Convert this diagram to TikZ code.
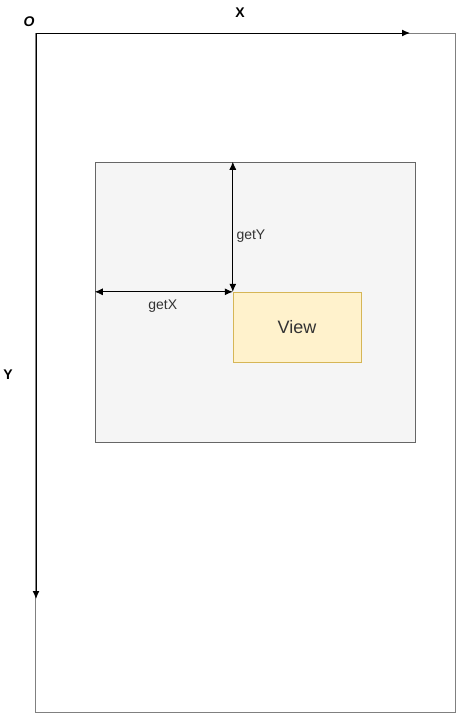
\documentclass[tikz,border=0pt]{standalone}
\usepackage{fontspec}
\setmainfont{Liberation Sans}
\usetikzlibrary{arrows.meta,positioning}
\definecolor{boxgray}{HTML}{F5F5F5}
\definecolor{edgegray}{HTML}{666666}
\definecolor{viewfill}{HTML}{FFF2CC}
\definecolor{viewedge}{HTML}{D6B656}
\definecolor{labeltext}{HTML}{333333}
\begin{document}
\begin{tikzpicture}[x=1pt,y=-1pt,>={Latex[length=8pt,width=7pt]}]
\useasboundingbox (0,0) rectangle (457,713);
% \draw[help lines] (0,0) grid (457,713);
\node (screen) [rectangle,draw=gray,inner sep=0pt,minimum width=420pt,minimum height=679pt] at (245.5,372.5) {};
\node (parent) [rectangle,draw=edgegray,fill=boxgray,inner sep=0pt,minimum width=320pt,minimum height=280pt] at (255,302) {};
\node (view) [rectangle,draw=viewedge,fill=viewfill,inner sep=0pt,minimum width=128pt,minimum height=70pt,text=labeltext,font=\fontsize{18}{21}\selectfont] at (297,327) {View};
%
\coordinate (o) at (36,33);
\coordinate (xend) at (410,33);
\coordinate (yend) at (36,599);
\node (olabel) [font=\bfseries\itshape\fontsize{14}{16}\selectfont] at (29,22) {O};
\node (xlabel) [font=\bfseries\fontsize{14}{16}\selectfont] at (240,13) {X};
\node (ylabel) [font=\bfseries\fontsize{14}{16}\selectfont] at (8,375) {Y};
%
\path[->,line width=1pt](o) edge (xend);
\path[->,line width=1pt](o) edge (yend);
\path[<->,line width=0.8pt](parent.north -| view.north west) edge node[right,pos=0.55,yshift=-3pt,text=labeltext,font=\fontsize{14}{16}\selectfont] {getY} (view.north west);
\path[<->,line width=0.8pt](parent.west |- view.north west) edge node[below,yshift=-4pt,xshift=-1pt,text=labeltext,font=\fontsize{14}{16}\selectfont] {getX} (view.north west);
\end{tikzpicture}
\end{document}
